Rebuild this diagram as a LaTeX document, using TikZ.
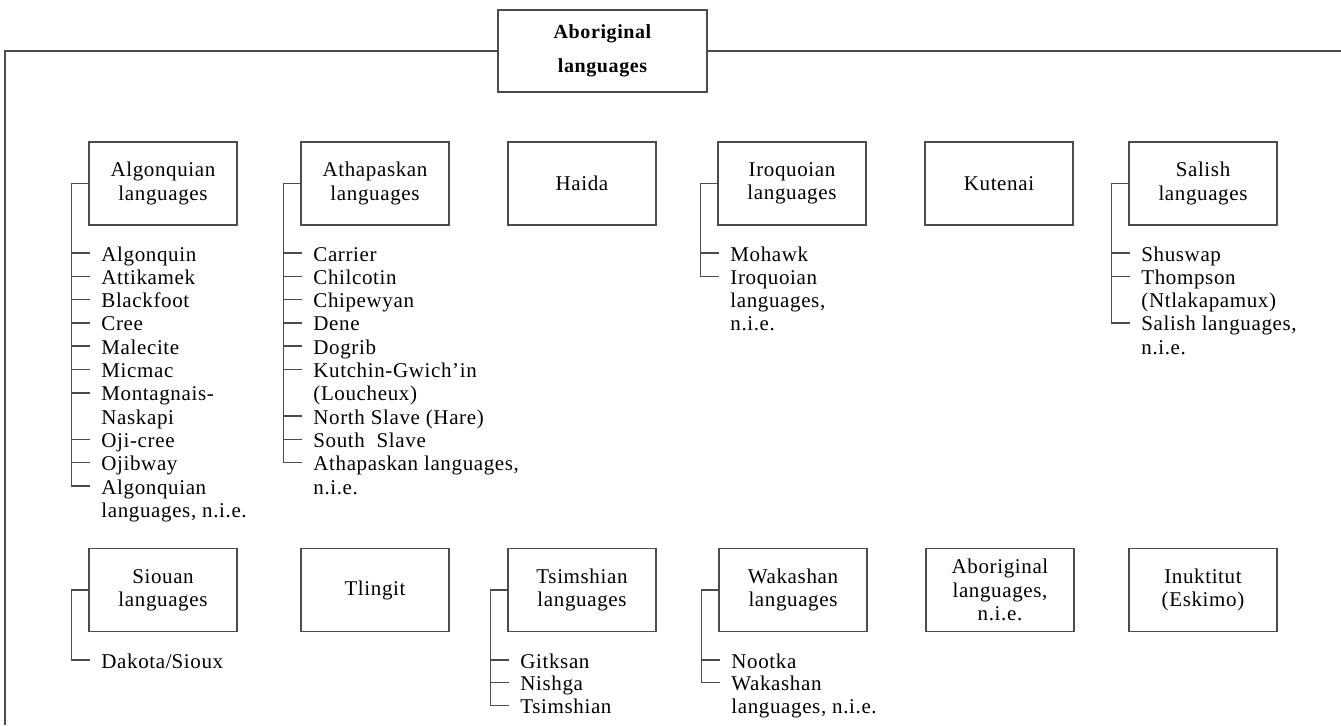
\documentclass[tikz,border=0pt]{standalone}
\usepackage{fontspec}
\setmainfont{Liberation Serif}[LetterSpace=3]
\colorlet{RuleGray}{black!70}
\usetikzlibrary{positioning}

\tikzset{
  langbox/.style={draw=RuleGray, line width=0.75pt, minimum width=74pt, minimum height=41.5pt,
    inner sep=1pt, align=center, font=\fontsize{10.5}{11.6}\selectfont},
  langitem/.style={anchor=base west, inner sep=0pt, font=\fontsize{10.5}{11.6}\selectfont},
  rule/.style={draw=RuleGray, line width=0.75pt},
}

\begin{document}
\begin{tikzpicture}[x=0.5pt, y=-0.5pt]
\useasboundingbox (0,0) rectangle (1341,725);

% top of the tree
\node[langbox, minimum width=104.5pt, minimum height=41pt,
  font=\bfseries\fontsize{10}{17}\selectfont] (root) at (602.5,51) {Aboriginal\\languages};
\coordinate (edgeL) at (5,725);
\coordinate (edgeR) at (1341,51);
\draw[rule] (root.west) -| (edgeL);
\draw[rule] (root.east) -- (edgeR);

% first row
\node[langbox] (alg) at (163,183.5) {Algonquian\\languages};
\node[langbox] (ath) at (375,183.5) {Athapaskan\\languages};
\node[langbox] (hai) at (582,183.5) {Haida};
\node[langbox] (iro) at (792,183.5) {Iroquoian\\languages};
\node[langbox] (kut) at (999,183.5) {Kutenai};
\node[langbox] (sal) at (1203,183.5) {Salish\\languages};

% second row
\node[langbox] (sio) at (163,590) {Siouan\\languages};
\node[langbox] (tli) at (375,590) {Tlingit};
\node[langbox] (tsi) at (582,590) {Tsimshian\\languages};
\node[langbox] (wak) at (793,590) {Wakashan\\languages};
\node[langbox] (abn) at (1000,590) {Aboriginal\\languages,\\n.i.e.};
\node[langbox] (inu) at (1203,590) {Inuktitut\\(Eskimo)};

% Algonquian
\coordinate (algT) at ([xshift=-8.5pt]alg.west);
\foreach \lbl/\tk [count=\i] in {Algonquin/1, Attikamek/1, Blackfoot/1, Cree/1, Malecite/1,
    Micmac/1, Montagnais-/1, Naskapi/0, Oji-cree/1, Ojibway/1, Algonquian/1,
    languages{,} n.i.e./0} {
  \node[langitem] (alg\i) at (101,{261+(\i-1)*23.3}) {\lbl};
  \coordinate (algk\i) at ([shift={(-5.5pt,4pt)}]alg\i.base west);
  \ifnum\tk=1 \draw[rule] (algk\i) -- (algk\i -| algT); \fi
}
\draw[rule] (alg.west) -- (algT) -- (algT |- algk11);

% Athapaskan
\coordinate (athT) at ([xshift=-8.5pt]ath.west);
\foreach \lbl/\tk [count=\i] in {Carrier/1, Chilcotin/1, Chipewyan/1, Dene/1, Dogrib/1,
    Kutchin-Gwich’in/1, (Loucheux)/0, North Slave (Hare)/1, South~ Slave/1,
    Athapaskan languages{,}/1, n.i.e./0} {
  \node[langitem] (ath\i) at (313,{261+(\i-1)*23.3}) {\lbl};
  \coordinate (athk\i) at ([shift={(-5.5pt,4pt)}]ath\i.base west);
  \ifnum\tk=1 \draw[rule] (athk\i) -- (athk\i -| athT); \fi
}
\draw[rule] (ath.west) -- (athT) -- (athT |- athk10);

% Iroquoian
\coordinate (iroT) at ([xshift=-8.5pt]iro.west);
\foreach \lbl/\tk [count=\i] in {Mohawk/1, Iroquoian/1, languages{,}/0, n.i.e./0} {
  \node[langitem] (iro\i) at (730,{261+(\i-1)*23.3}) {\lbl};
  \coordinate (irok\i) at ([shift={(-5.5pt,4pt)}]iro\i.base west);
  \ifnum\tk=1 \draw[rule] (irok\i) -- (irok\i -| iroT); \fi
}
\draw[rule] (iro.west) -- (iroT) -- (iroT |- irok2);

% Salish
\coordinate (salT) at ([xshift=-8.5pt]sal.west);
\foreach \lbl/\tk [count=\i] in {Shuswap/1, Thompson/1, (Ntlakapamux)/0,
    Salish languages{,}/1, n.i.e./0} {
  \node[langitem] (sal\i) at (1141,{261+(\i-1)*23.3}) {\lbl};
  \coordinate (salk\i) at ([shift={(-5.5pt,4pt)}]sal\i.base west);
  \ifnum\tk=1 \draw[rule] (salk\i) -- (salk\i -| salT); \fi
}
\draw[rule] (sal.west) -- (salT) -- (salT |- salk4);

% Siouan
\coordinate (sioT) at ([xshift=-8.5pt]sio.west);
\node[langitem] (sio1) at (101,668) {Dakota\slash Sioux};
\coordinate (siok1) at ([shift={(-5.5pt,4pt)}]sio1.base west);
\draw[rule] (sio.west) -- (sioT) |- (siok1);

% Tsimshian
\coordinate (tsiT) at ([xshift=-8.5pt]tsi.west);
\foreach \lbl [count=\i] in {Gitksan, Nishga, Tsimshian} {
  \node[langitem] (tsi\i) at (520,{668+(\i-1)*22.7}) {\lbl};
  \coordinate (tsik\i) at ([shift={(-5.5pt,4pt)}]tsi\i.base west);
  \draw[rule] (tsik\i) -- (tsik\i -| tsiT);
}
\draw[rule] (tsi.west) -- (tsiT) -- (tsiT |- tsik3);

% Wakashan
\coordinate (wakT) at ([xshift=-8.5pt]wak.west);
\foreach \lbl/\tk [count=\i] in {Nootka/1, Wakashan/1, languages{,} n.i.e./0} {
  \node[langitem] (wak\i) at (731,{668+(\i-1)*22.7}) {\lbl};
  \coordinate (wakk\i) at ([shift={(-5.5pt,4pt)}]wak\i.base west);
  \ifnum\tk=1 \draw[rule] (wakk\i) -- (wakk\i -| wakT); \fi
}
\draw[rule] (wak.west) -- (wakT) -- (wakT |- wakk2);

\end{tikzpicture}
\end{document}
